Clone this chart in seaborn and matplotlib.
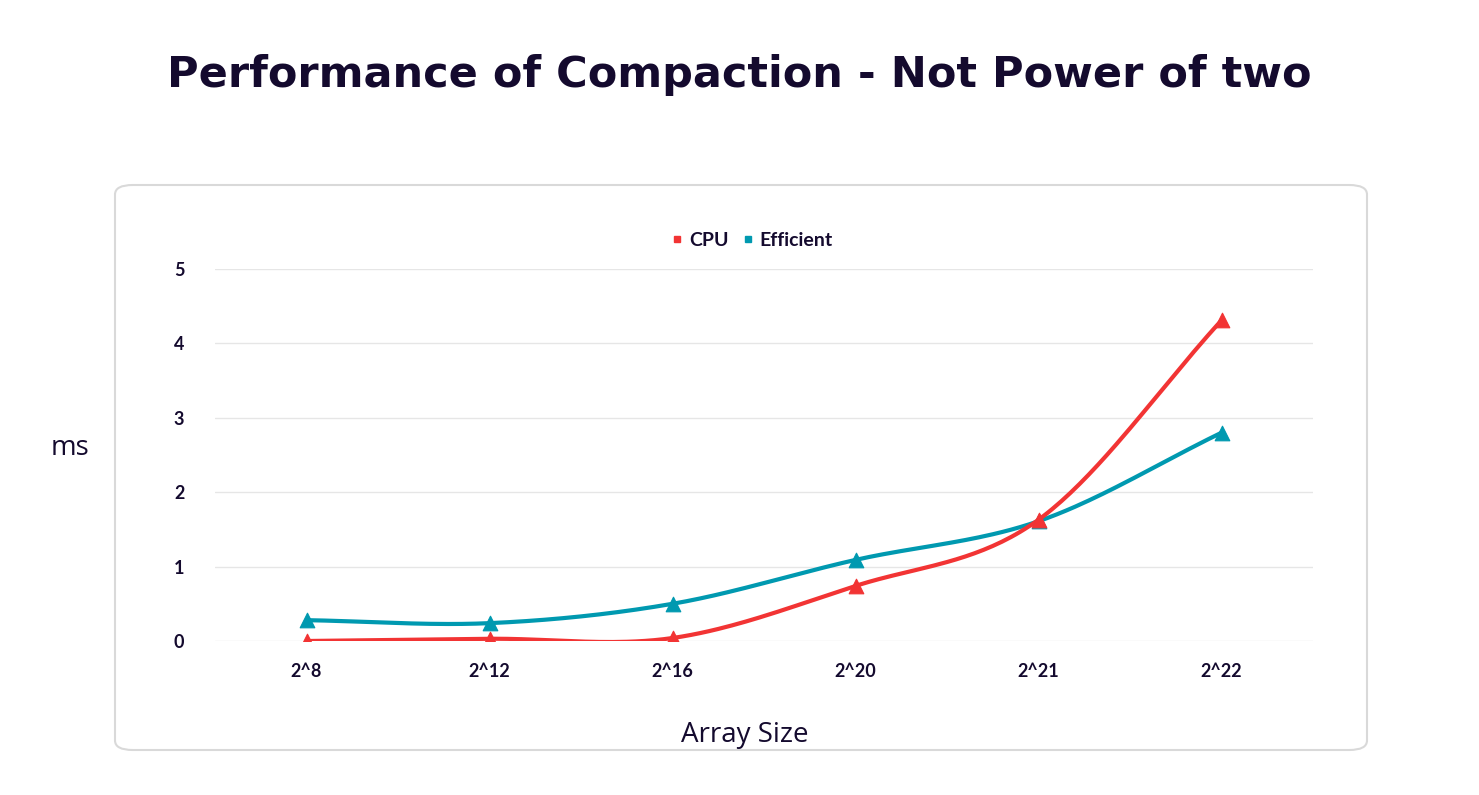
import numpy as np
import matplotlib
matplotlib.use("Agg")
import matplotlib.pyplot as plt
import seaborn as sns
from matplotlib.patches import FancyBboxPatch
from matplotlib.lines import Line2D

categories = ["2^8", "2^12", "2^16", "2^20", "2^21", "2^22"]
cpu = [0.0, 0.03, 0.04, 0.74, 1.63, 4.31]
efficient = [0.28, 0.24, 0.50, 1.09, 1.61, 2.80]
yticks = [0, 1, 2, 3, 4, 5]

sns.set_theme(style="white")
plt.rcParams['font.family'] = ['Lato', 'DejaVu Sans']

W, H = 1479, 795
fig = plt.figure(figsize=(W/100, H/100), dpi=100)
fig.patch.set_facecolor("white")

box = FancyBboxPatch((115/W, 1-750/H), (1367-115)/W, (750-185)/H,
                     boxstyle="round,pad=0,rounding_size=0.012",
                     transform=fig.transFigure, fc="none", ec="#d9d9d9", lw=1.5, zorder=-1)
fig.patches.append(box)

fig.text(0.5, 1-75/H, "Performance of Compaction - Not Power of two",
         ha="center", va="center", fontsize=31, fontweight="bold", color="#140a2e",
         family=['DejaVu Sans'])

ax = fig.add_axes([215/W, 1-641/H, (1313-215)/W, (641-269)/H])
ax.set_facecolor("none")

def smooth(y, n=40):
    y = np.asarray(y, float)
    x = np.arange(len(y))
    p = np.concatenate([[2*y[0]-y[1]], y, [2*y[-1]-y[-2]]])
    xs, ys = [], []
    for i in range(len(y)-1):
        t = np.linspace(0, 1, n, endpoint=False)
        p0, p1, p2, p3 = p[i], p[i+1], p[i+2], p[i+3]
        m1 = (p2-p0)/2; m2 = (p3-p1)/2
        h = (2*t**3-3*t**2+1)*p1 + (t**3-2*t**2+t)*m1 + (-2*t**3+3*t**2)*p2 + (t**3-t**2)*m2
        xs.append(x[i]+t); ys.append(h)
    xs.append([x[-1]]); ys.append([y[-1]])
    return np.concatenate(xs), np.concatenate(ys)

red, teal = "#f23434", "#0099b0"
for vals, col in [(efficient, teal), (cpu, red)]:
    xs, ys = smooth(vals)
    sns.lineplot(x=xs, y=ys, ax=ax, color=col, lw=3, sort=False)
    sns.scatterplot(x=np.arange(len(vals)), y=vals, ax=ax, color=col, marker="^",
                    s=110, edgecolor=col, zorder=5)

ax.set_xlim(-0.5, len(categories)-0.5)
ax.set_ylim(0, 5)
ax.set_xticks(range(len(categories)))
ax.set_xticklabels(categories)
ax.set_yticks(yticks)
ax.tick_params(axis="both", length=0, labelsize=13, colors="#140a2e")
for lbl in ax.get_xticklabels() + ax.get_yticklabels():
    lbl.set_fontweight("bold")
ax.tick_params(axis="x", pad=16)
ax.tick_params(axis="y", pad=22)
ax.grid(axis="y", color="#e6e6e6", lw=1)
ax.set_axisbelow(True)
for s in ax.spines.values():
    s.set_visible(False)

fig.text(70/W, 1-448/H, "ms", ha="center", va="center", fontsize=20, color="#140a2e",
         family=['Open Sans', 'DejaVu Sans'])
fig.text(745/W, 1-735/H, "Array Size", ha="center", va="center", fontsize=20,
         color="#140a2e", family=['Open Sans', 'DejaVu Sans'])

handles = [Line2D([], [], marker="s", ls="", color=red, markersize=5),
           Line2D([], [], marker="s", ls="", color=teal, markersize=5)]
leg = fig.legend(handles, ["CPU", "Efficient"], loc="center", bbox_to_anchor=(750/W, 1-240/H),
                 ncol=2, frameon=False, handletextpad=0.1, columnspacing=0.5,
                 handlelength=1.0, prop={"size": 14, "weight": "bold"})
for t in leg.get_texts():
    t.set_color("#140a2e")

fig.savefig("out.png", dpi=100)
